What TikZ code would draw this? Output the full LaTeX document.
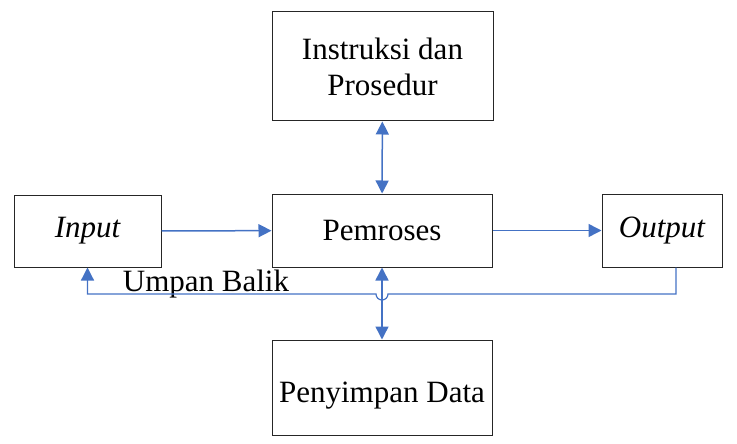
\documentclass[tikz,border=0pt]{standalone}
\usepackage{fontspec}
\setmainfont{Liberation Serif}
\usepackage{tikz}
\usetikzlibrary{positioning,arrows.meta}
\definecolor{lineblue}{RGB}{68,114,196}

\begin{document}
\begin{tikzpicture}[x=1pt, y=-1pt,
    box/.style={draw=black!85, line width=1pt, align=center, inner sep=2pt,
                font=\fontsize{31}{36}\selectfont},
    arr/.style={-{Triangle[length=13pt,width=13pt]}, line width=1.5pt, lineblue},
    darr/.style={{Triangle[length=13pt,width=13pt]}-{Triangle[length=13pt,width=13pt]}, line width=1.5pt, lineblue}
]
\useasboundingbox (0,0) rectangle (737,444);
\node[box, minimum width=221pt, minimum height=109pt] (ins) at (382.5,66.5) {Instruksi dan\\Prosedur};
\node[box, minimum width=220pt, minimum height=73pt]  (pem) at (382,230.5) {Pemroses};
\node[box, minimum width=147pt, minimum height=72pt]  (inp) at (87.5,231) {\itshape Input};
\node[box, minimum width=120pt, minimum height=73pt]  (out) at (662,230.5) {\itshape Output};
\node[box, minimum width=220pt, minimum height=95pt, text height=36pt, text depth=7pt]
     (pen) at (382,387.5) {Penyimpan Data};
\node[font=\fontsize{31}{36}\selectfont] (fbl) at (206,284) {Umpan Balik};
\coordinate (hopR) at (388,294);
\draw[arr] (inp) -- (pem); \draw[arr] (pem) -- (out);
\draw[darr] (ins) -- (pem); \draw[darr] (pem) -- (pen);
\draw[arr, line width=1.2pt] ([xshift=14pt]out.south) |- (hopR)
    arc[start angle=0, end angle=-180, radius=6pt] -- (hopR -| inp.south) -- (inp.south);
\end{tikzpicture}
\end{document}
